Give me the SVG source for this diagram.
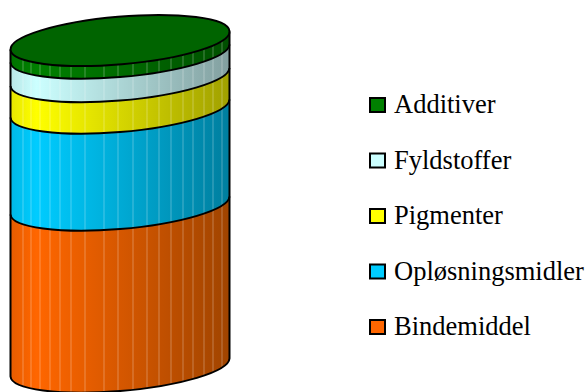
<svg xmlns="http://www.w3.org/2000/svg" width="588" height="392" viewBox="0 0 588 392">
  <style>
    .edge { fill: none; stroke: #000; stroke-width: 2; }
    .facet { stroke: #fff; stroke-opacity: 0.3; stroke-width: 1; }
    .leg { font-family: "Liberation Serif", "Times New Roman", serif; font-size: 26.5px; fill: #000; }
    .sw { stroke: #000; stroke-width: 2; }
  </style>
  <defs>
    <linearGradient id="gGreen" gradientUnits="userSpaceOnUse" x1="10" y1="0" x2="230" y2="0">
      <stop offset="0" stop-color="#007300"/><stop offset="0.12" stop-color="#008000"/><stop offset="1" stop-color="#004f00"/>
    </linearGradient>
    <linearGradient id="gLight" gradientUnits="userSpaceOnUse" x1="10" y1="0" x2="230" y2="0">
      <stop offset="0" stop-color="#b8e6e6"/><stop offset="0.12" stop-color="#ccffff"/><stop offset="1" stop-color="#829f9f"/>
    </linearGradient>
    <linearGradient id="gYellow" gradientUnits="userSpaceOnUse" x1="10" y1="0" x2="230" y2="0">
      <stop offset="0" stop-color="#e6e600"/><stop offset="0.12" stop-color="#ffff00"/><stop offset="1" stop-color="#a0a000"/>
    </linearGradient>
    <linearGradient id="gCyan" gradientUnits="userSpaceOnUse" x1="10" y1="0" x2="230" y2="0">
      <stop offset="0" stop-color="#00b8e6"/><stop offset="0.12" stop-color="#00ccff"/><stop offset="1" stop-color="#007e9e"/>
    </linearGradient>
    <linearGradient id="gOrange" gradientUnits="userSpaceOnUse" x1="10" y1="0" x2="230" y2="0">
      <stop offset="0" stop-color="#e65c00"/><stop offset="0.12" stop-color="#ff6600"/><stop offset="1" stop-color="#a04400"/>
    </linearGradient>
    <clipPath id="body">
      <path d="M10.5,49.5 A109.9 23.8 -4.93 0 0 229.5,31.5 L229.5,358.5 A109.9 23.8 -4.93 0 1 10.5,376.5 Z"/>
    </clipPath>
  </defs>

  <g id="cylinder">
    <path id="band-bindemiddel" fill="url(#gOrange)" d="M10.5,214.5 A109.9 23.8 -4.93 0 0 229.5,196.5 L229.5,358.5 A109.9 23.8 -4.93 0 1 10.5,376.5 Z"/>
    <path id="band-oplosningsmidler" fill="url(#gCyan)" d="M10.5,117.5 A109.9 23.8 -4.93 0 0 229.5,99.5 L229.5,196.5 A109.9 23.8 -4.93 0 1 10.5,214.5 Z"/>
    <path id="band-pigmenter" fill="url(#gYellow)" d="M10.5,86 A109.9 23.8 -4.93 0 0 229.5,68 L229.5,99.5 A109.9 23.8 -4.93 0 1 10.5,117.5 Z"/>
    <path id="band-fyldstoffer" fill="url(#gLight)" d="M10.5,62.5 A109.9 23.8 -4.93 0 0 229.5,44.5 L229.5,68 A109.9 23.8 -4.93 0 1 10.5,86 Z"/>
    <path id="band-additiver" fill="url(#gGreen)" d="M10.5,49.5 A109.9 23.8 -4.93 0 0 229.5,31.5 L229.5,44.5 A109.9 23.8 -4.93 0 1 10.5,62.5 Z"/>

    <g id="facets" clip-path="url(#body)">
      <line class="facet" x1="23" y1="20" x2="23" y2="392"/>
      <line class="facet" x1="31" y1="20" x2="31" y2="392"/>
      <line class="facet" x1="40" y1="20" x2="40" y2="392"/>
      <line class="facet" x1="50" y1="20" x2="50" y2="392"/>
      <line class="facet" x1="60" y1="20" x2="60" y2="392"/>
      <line class="facet" x1="71" y1="20" x2="71" y2="392"/>
      <line class="facet" x1="85" y1="20" x2="85" y2="392"/>
      <line class="facet" x1="104" y1="20" x2="104" y2="392"/>
      <line class="facet" x1="118" y1="20" x2="118" y2="392"/>
      <line class="facet" x1="133" y1="20" x2="133" y2="392"/>
      <line class="facet" x1="147" y1="20" x2="147" y2="392"/>
      <line class="facet" x1="159" y1="20" x2="159" y2="392"/>
      <line class="facet" x1="171" y1="20" x2="171" y2="392"/>
      <line class="facet" x1="183" y1="20" x2="183" y2="392"/>
      <line class="facet" x1="193" y1="20" x2="193" y2="392"/>
      <line class="facet" x1="204" y1="20" x2="204" y2="392"/>
      <line class="facet" x1="213" y1="20" x2="213" y2="392"/>
      <line class="facet" x1="222" y1="20" x2="222" y2="392"/>
    </g>

    <g id="band-edges">
      <path class="edge" d="M10.5,62.5 A109.9 23.8 -4.93 0 0 229.5,44.5"/>
      <path class="edge" d="M10.5,86 A109.9 23.8 -4.93 0 0 229.5,68"/>
      <path class="edge" d="M10.5,117.5 A109.9 23.8 -4.93 0 0 229.5,99.5"/>
      <path class="edge" d="M10.5,214.5 A109.9 23.8 -4.93 0 0 229.5,196.5"/>
      <path class="edge" d="M10.5,49.5 L10.5,376.5 A109.9 23.8 -4.93 0 0 229.5,358.5 L229.5,31.5"/>
    </g>

    <ellipse id="top" cx="120" cy="40.5" rx="109.9" ry="23.8" transform="rotate(-4.93 120 40.5)" fill="#006400" stroke="#000" stroke-width="2"/>
  </g>

  <g id="legend">
    <g id="legend-additiver">
      <rect class="sw" x="370" y="98" width="15" height="14" fill="#008000"/>
      <text class="leg" x="394" y="113">Additiver</text>
    </g>
    <g id="legend-fyldstoffer">
      <rect class="sw" x="370" y="153.5" width="15" height="14" fill="#ccffff"/>
      <text class="leg" x="394" y="168.5">Fyldstoffer</text>
    </g>
    <g id="legend-pigmenter">
      <rect class="sw" x="370" y="209" width="15" height="14" fill="#ffff00"/>
      <text class="leg" x="394" y="224">Pigmenter</text>
    </g>
    <g id="legend-oplosningsmidler">
      <rect class="sw" x="370" y="264.5" width="15" height="14" fill="#00ccff"/>
      <text class="leg" x="394" y="279.5">Opløsningsmidler</text>
    </g>
    <g id="legend-bindemiddel">
      <rect class="sw" x="370" y="320" width="15" height="14" fill="#ff6600"/>
      <text class="leg" x="394" y="335">Bindemiddel</text>
    </g>
  </g>
</svg>
